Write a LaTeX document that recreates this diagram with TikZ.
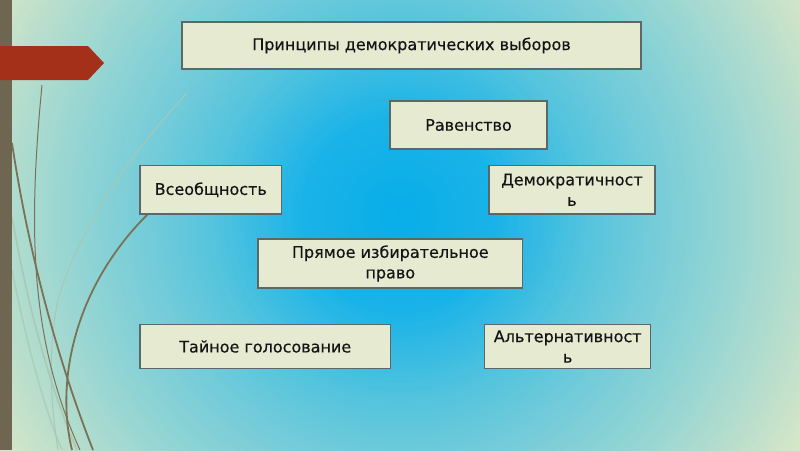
\documentclass[tikz,border=0pt]{standalone}
\usepackage{fontspec}
\setmainfont{DejaVu Sans}
\newfontfamily\boxfont{DejaVu Sans}[FakeBold=0.35]
\definecolor{boxfill}{HTML}{E5EAD1}
\definecolor{boxline}{HTML}{5A6868}
\definecolor{olive}{HTML}{6E6650}
\definecolor{curve}{HTML}{7A7256}
\definecolor{palecurve}{HTML}{A8C8B4}
\definecolor{banner}{HTML}{A5301A}
\definecolor{txt}{HTML}{141414}
\definecolor{c0}{HTML}{08ADE9}
\definecolor{c1}{HTML}{1AB3E8}
\definecolor{c2}{HTML}{55C4DD}
\definecolor{c3}{HTML}{72CBD9}
\definecolor{c4}{HTML}{90D4D4}
\definecolor{c5}{HTML}{B6DDCD}
\definecolor{c6}{HTML}{D6E6C8}
\definecolor{c7}{HTML}{E0E9C5}
\tikzset{
  pbox/.style={draw=boxline, line width=1.1pt, fill=boxfill, inner sep=0pt,
    text=txt, align=center, font=\boxfont\fontsize{16}{20.5}\selectfont},
  thickcurve/.style={draw=curve, line width=1.8pt},
  thincurve/.style={draw=curve, line width=1pt},
  faintcurve/.style={draw=palecurve, line width=1.5pt},
}
\begin{document}
\begin{tikzpicture}[x=1pt,y=-1pt]
\useasboundingbox (0,0) rectangle (800,450);
% background
\begin{scope}
\clip (0,0) rectangle (800,450);
\fill[c7] (0,0) rectangle (800,450);
\foreach \ra/\rb/\ca/\cb in {520/460/c7/c6, 460/400/c6/c5, 400/320/c5/c4, 320/250/c4/c3, 250/190/c3/c2, 190/100/c2/c1, 100/0/c1/c0} {
  \foreach \i in {0,...,19} {
    \pgfmathsetmacro\rr{\ra-(\ra-\rb)*\i/20}
    \pgfmathsetmacro\pp{100-100*\i/20}
    \fill[color=\ca!\pp!\cb] (400,215) circle[radius=\rr pt];
  }
}
\end{scope}
% curves
\draw[faintcurve] (12,217) .. controls (30,320) and (55,400) .. (77,450);
\draw[faintcurve, opacity=0.7] (12,270) .. controls (28,350) and (45,410) .. (62,450);
\draw[draw=palecurve, line width=1pt] (187,93) .. controls (120,165) and (75,240) .. (58,300) .. controls (48,345) and (50,400) .. (58,450);
\draw[thincurve] (42,85) .. controls (28,230) and (30,340) .. (80,450);
\draw[thickcurve] (12,143) .. controls (25,230) and (50,340) .. (93,450);
\draw[thickcurve] (150,212) .. controls (75,285) and (55,380) .. (72,450);
% left bar
\fill[olive] (0,0) rectangle (12,450);
% banner
\fill[banner] (0,46) -- (88,46) -- (104,63) -- (88,80) -- (0,80) -- cycle;
% boxes
\node[pbox, minimum width=459pt, minimum height=47pt] (title) at (411.5,45.5) {Принципы демократических выборов};
\node[pbox, minimum width=157pt, minimum height=48pt] (rav) at (468.5,125) {Равенство};
\node[pbox, minimum width=141.5pt, minimum height=48.5pt] (vse) at (210.75,189.75) {Всеобщность};
\node[pbox, minimum width=166pt, minimum height=48.5pt] (dem) at (572,189.75) {Демократичност\\ь};
\node[pbox, minimum width=264.6pt, minimum height=49pt] (pry) at (390.3,263.5) {Прямое избирательное\\право};
\node[pbox, minimum width=250.5pt, minimum height=44pt] (tai) at (265.25,346.5) {Тайное голосование};
\node[pbox, minimum width=166pt, minimum height=44pt] (alt) at (567.7,346.5) {Альтернативност\\ь};
\end{tikzpicture}
\end{document}
